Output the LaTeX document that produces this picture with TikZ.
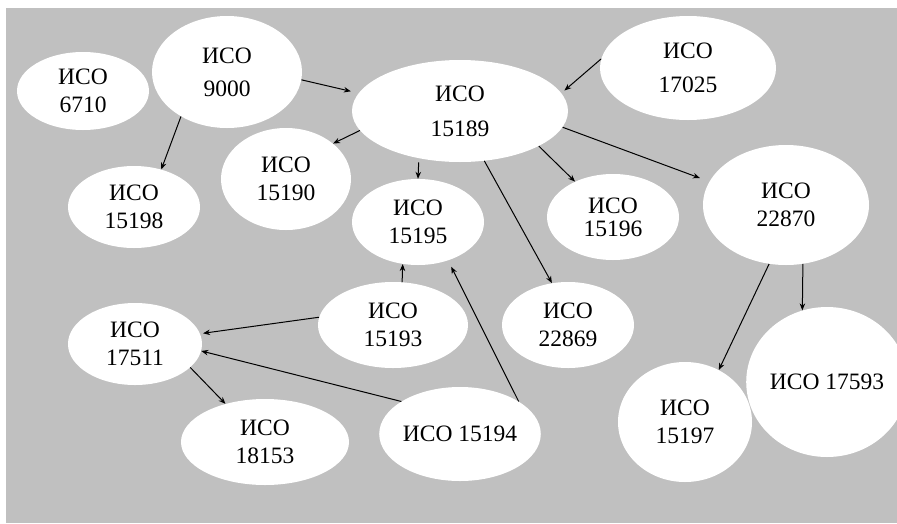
\documentclass[tikz,border=0pt]{standalone}
\usepackage{fontspec}
\setmainfont{Liberation Serif}
\usepackage{tikz}
\usetikzlibrary{shapes.geometric,arrows.meta}
\definecolor{bggray}{RGB}{192,192,192}
\tikzset{
  iso/.style={ellipse,fill=white,inner sep=0pt,align=center,
    font=\fontsize{23.5}{28}\selectfont},
  link/.style={-{Stealth[length=7pt,width=5.5pt]},line width=1pt}
}

\begin{document}
\begin{tikzpicture}[x=1pt,y=-1pt]
\useasboundingbox (0,0) rectangle (897,523);
\fill[bggray] (6,8) rectangle (897,523);
\node[iso,minimum width=132pt,minimum height=78pt] (n6710) at (83,91) {ИСО\\6710};
\node[iso,minimum width=150pt,minimum height=112pt] (n9000) at (227,72) {ИСО\\[5pt]9000};
\node[iso,minimum width=216pt,minimum height=102pt] (n15189) at (460,111) {ИСО\\[7pt]15189};
\node[iso,minimum width=176pt,minimum height=104pt] (n17025) at (688,68) {ИСО\\[6pt]17025};
\node[iso,minimum width=130pt,minimum height=102pt] (n15190) at (286,179) {ИСО\\15190};
\node[iso,minimum width=132pt,minimum height=82pt] (n15198) at (134,207) {ИСО\\15198};
\node[iso,minimum width=132pt,minimum height=86pt] (n15195) at (418,222) {ИСО\\15195};
\node[iso,minimum width=132pt,minimum height=86pt] (n15196) at (613,217) {ИСО\\[-5pt]15196};
\node[iso,minimum width=166pt,minimum height=120pt] (n22870) at (786,205) {ИСО\\22870};
\node[iso,minimum width=132pt,minimum height=86pt] (n22869) at (568,325) {ИСО\\22869};
\node[iso,minimum width=150pt,minimum height=86pt] (n15193) at (393,325) {ИСО\\15193};
\node[iso,minimum width=134pt,minimum height=82pt] (n17511) at (135,344) {ИСО\\17511};
\node[iso,minimum width=168pt,minimum height=86pt] (n18153) at (265,442) {ИСО\\18153};
\node[iso,minimum width=146pt,minimum height=94pt] (n15194) at (460,434) {ИСО 15194};
\node[iso,minimum width=134pt,minimum height=120pt] (n15197) at (685,422) {ИСО\\15197};
\node[iso,minimum width=136pt,minimum height=150pt] (n17593) at (827,382) {ИСО 17593};
\draw[link,shorten >=8pt] (n9000.-6) -- (n15189.170);
\draw[link] (n9000.224) -- (n15198.54);
\draw[link] (n15189.191) -- (n15190.37);
\draw[link,shorten <=4pt] (n15189.229) -- (n15195.north);
\draw[link,shorten >=4pt] (n17025.174) -- (n15189.10);
\draw[link] (n15189.-24) -- (n15196.137);
\draw[link,shorten >=10pt] (n15189.-9) -- (n22870.163);
\draw[link] (n15189.-64) -- (n22869.111);
\draw[link] (n22870.254) -- (n15197.57);
\draw[link] (n22870.286) -- (n17593.109);
\draw[link] (n15193.78) -- (n15195.250);
\draw[link,shorten >=7pt] (n15194.29) -- (n15195.-52);
\draw[link,shorten >=3pt] (n15193.174) -- (n17511.9);
\draw[link] (n15194.151) -- (n17511.-6);
\draw[link] (n17511.-23) -- (n18153.136);
\end{tikzpicture}
\end{document}
